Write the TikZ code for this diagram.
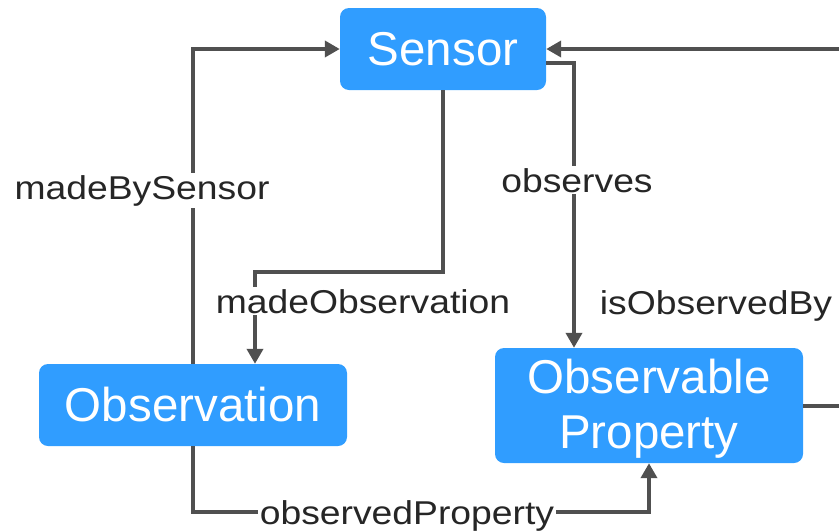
\documentclass[tikz,border=0pt]{standalone}
\usepackage{fontspec}
\setmainfont{Liberation Sans}
\newfontfamily\lblfont[FakeStretch=1.13]{Liberation Sans}
\usetikzlibrary{arrows.meta,calc}
\definecolor{boxblue}{HTML}{309DFF}
\definecolor{linegray}{HTML}{505050}
\tikzset{
  classbox/.style={fill=boxblue, rounded corners=9pt, text=white, align=center,
    font=\fontsize{47.5}{55}\selectfont, inner sep=0pt},
  classtext/.style={text=white, align=center, font=\fontsize{47.5}{55}\selectfont, inner sep=0pt},
  rel/.style={draw=linegray, line width=4pt},
  relarrow/.style={rel, -{Triangle[length=15pt,width=16pt]}},
  rellabel/.style={fill=white, text=black!85, inner sep=2pt, anchor=base,
    font=\lblfont\fontsize{33}{38}\selectfont},
}
\begin{document}
\begin{tikzpicture}[x=1pt,y=-1pt]
\useasboundingbox (0,0) rectangle (839,531);
\clip (0,0) rectangle (839,531);

% classes
\node[classbox, minimum width=206pt, minimum height=82pt] (sensor) at (443,49) {Sensor};
\node[classbox, minimum width=308pt, minimum height=82pt] (obs) at (193,405) {Observation};
\node[classbox, minimum width=308pt, minimum height=115pt] (prop) at (649,405.5) {};
\node[classtext] (proptext) at (649,409) {Observable\\Property};

% bend points
\coordinate (mo1) at ($(sensor.south)+(0,182)$);
\coordinate (mo2) at ($(obs.north)+(62,0)$);
\coordinate (ob1) at ($(sensor.east)+(0,14)$);
\coordinate (ob2) at ($(prop.north)+(-75,0)$);
\coordinate (iob) at ($(prop.east)+(60,0)$);
\coordinate (op1) at ($(obs.south)+(0,66)$);

% relations
\draw[relarrow] (obs.north) |- (sensor.west);
\draw[relarrow] (sensor.south) -- (mo1) -| (mo2);
\draw[relarrow] (ob1) -| (ob2);
\draw[relarrow] (prop.east) -- (iob) |- (sensor.east);
\draw[relarrow] (obs.south) -- (op1) -| (prop.south);

% relation names
\node[rellabel] (lmbs) at (142,199) {madeBySensor};
\node[rellabel] (lmo) at (363,313) {madeObservation};
\node[rellabel] (lobs) at (577,192) {observes};
\node[rellabel] (liob) at (716,314) {isObservedBy};
\node[rellabel] (lop) at (407,524) {observedProperty};
\end{tikzpicture}
\end{document}
